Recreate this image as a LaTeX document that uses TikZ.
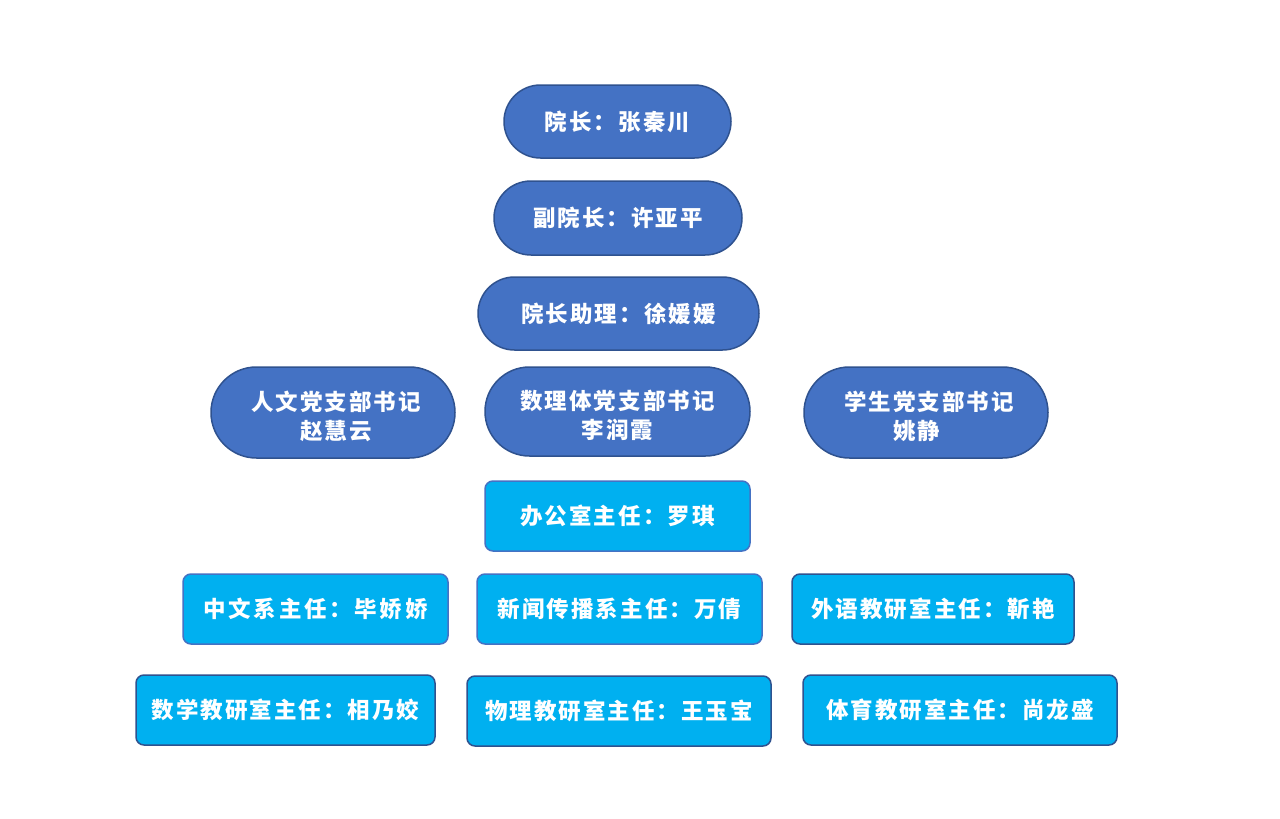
\documentclass[tikz,border=0pt]{standalone}
\usepackage{fontspec}
\newfontfamily\cjk{Noto Sans CJK SC}[LetterSpace=9]
\usetikzlibrary{shapes.misc}
\definecolor{dkblue}{HTML}{4472C4}
\definecolor{dkborder}{HTML}{2F528F}
\definecolor{ltblue}{HTML}{00B0F0}
\definecolor{ltborder}{HTML}{4472C4}
\begin{document}
\begin{tikzpicture}[x=1pt,y=-1pt]
\tikzset{
  txt/.style={text=white, font=\cjk\bfseries\fontsize{22.5}{29.5}\selectfont, inner sep=0pt, align=center},
  base/.style={txt, line width=1.5pt},
  pill/.style={base, rounded rectangle, fill=dkblue, draw=dkborder},
  twoline/.style={label={[txt, yshift=-4pt]center:#1}},
  office/.style={base, rectangle, rounded corners=8pt, fill=ltblue, draw=ltborder},
  officedk/.style={office, draw=dkborder}
}
\path[use as bounding box, fill=white] (0,0) rectangle (1280,819);
\node[pill, minimum width=227pt, minimum height=73pt] (dean) at (617.5,121.5) {院长：张秦川};
\node[pill, minimum width=248pt, minimum height=74pt] (vice) at (618,218) {副院长：许亚平};
\node[pill, minimum width=281pt, minimum height=73pt] (assist) at (618.5,313.5) {院长助理：徐媛媛};
\node[pill, minimum width=244pt, minimum height=91pt, twoline={\hspace*{6pt}人文党支部书记\\\hspace*{6pt}赵慧云}] (renwen) at (333,412.5) {};
\node[pill, minimum width=265pt, minimum height=89pt, twoline={数理体党支部书记\\李润霞}] (shuli) at (617.5,411.5) {};
\node[pill, minimum width=244pt, minimum height=91pt, twoline={\hspace*{6pt}学生党支部书记\\姚静\hspace*{18pt}}] (xuesheng) at (926,412.5) {};
\node[office, minimum width=265pt, minimum height=70pt] (ban) at (617.5,516) {办公室主任：罗琪};
\node[office, minimum width=265pt, minimum height=70pt] (zhongwen) at (315.5,609) {\addfontfeature{LetterSpace=12}中文系主任：毕娇娇};
\node[office, minimum width=285pt, minimum height=70pt] (xinwen) at (619.5,609) {新闻传播系主任：万倩};
\node[officedk, minimum width=282pt, minimum height=70pt] (waiyu) at (933,609) {外语教研室主任：靳艳};
\node[officedk, minimum width=299pt, minimum height=70pt] (shuxue) at (285.5,710) {数学教研室主任：相乃姣};
\node[officedk, minimum width=304pt, minimum height=70pt] (wuli) at (619,711) {物理教研室主任：王玉宝};
\node[officedk, minimum width=314pt, minimum height=70pt] (tiyu) at (960,710) {体育教研室主任：尚龙盛};
\end{tikzpicture}
\end{document}
